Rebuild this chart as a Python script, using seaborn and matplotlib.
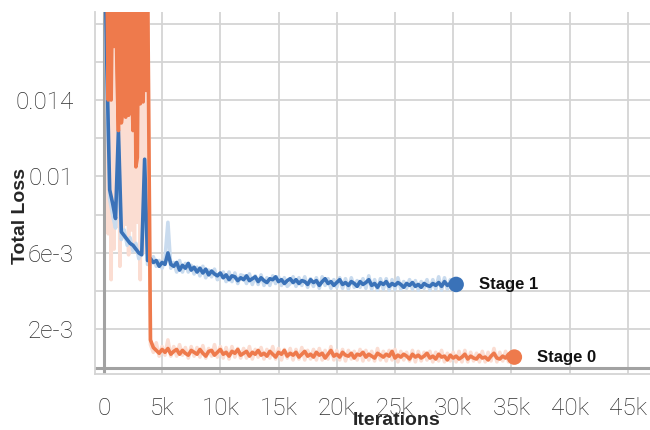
import matplotlib
matplotlib.use("Agg")
import matplotlib.pyplot as plt
import seaborn as sns

# logged iterations, in thousands
steps = [
    0, 0.25, 0.5, 0.75, 1, 1.25, 1.5, 1.75,
    2, 2.25, 2.5, 2.75, 3, 3.25, 3.5, 3.75,
    4, 4.25, 4.5, 4.75, 5, 5.25, 5.5, 5.75,
    6, 6.25, 6.5, 6.75, 7, 7.25, 7.5, 7.75,
    8, 8.25, 8.5, 8.75, 9, 9.25, 9.5, 9.75,
    10, 10.25, 10.5, 10.75, 11, 11.25, 11.5, 11.75,
    12, 12.25, 12.5, 12.75, 13, 13.25, 13.5, 13.75,
    14, 14.25, 14.5, 14.75, 15, 15.25, 15.5, 15.75,
    16, 16.25, 16.5, 16.75, 17, 17.25, 17.5, 17.75,
    18, 18.25, 18.5, 18.75, 19, 19.25, 19.5, 19.75,
    20, 20.25, 20.5, 20.75, 21, 21.25, 21.5, 21.75,
    22, 22.25, 22.5, 22.75, 23, 23.25, 23.5, 23.75,
    24, 24.25, 24.5, 24.75, 25, 25.25, 25.5, 25.75,
    26, 26.25, 26.5, 26.75, 27, 27.25, 27.5, 27.75,
    28, 28.25, 28.5, 28.75, 29, 29.25, 29.5, 29.75,
    30, 30.25, 30.5, 30.75, 31, 31.25, 31.5, 31.75,
    32, 32.25, 32.5, 32.75, 33, 33.25, 33.5, 33.75,
    34, 34.25, 34.5, 34.75, 35, 35.25,
]

# stage 0 is logged more densely during its unstable warm-up (0.25k - 3.75k)
stage0_warmup_steps = [
    0.25, 0.375, 0.5, 0.625, 0.75, 0.875, 1, 1.125, 1.25, 1.375,
    1.5, 1.625, 1.75, 1.875, 2, 2.125, 2.25, 2.375, 2.5, 2.625,
    2.75, 2.875, 3, 3.125, 3.25, 3.375, 3.5, 3.625, 3.75,
]

# total loss, in units of 1e-3
stage1_smooth = [
    24, 16, 9.3, 8.6, 7.8, 12.4, 7.1, 6.9,
    6.7, 6.5, 6.4, 6.2, 6.0, 5.9, 10.9, 5.6,
    5.7, 5.5, 5.6, 5.3, 5.5, 5.4, 6.0, 5.4,
    5.3, 5.5, 5.1, 5.35, 5.2, 5.45, 5.1, 5.25,
    5.0, 5.2, 4.95, 5.15, 4.85, 5.05, 4.9, 4.8,
    4.95, 4.7, 4.85, 4.6, 4.8, 4.75, 4.55, 4.7,
    4.6, 4.8, 4.55, 4.65, 4.75, 4.5, 4.7, 4.55,
    4.45, 4.65, 4.6, 4.75, 4.5, 4.6, 4.4, 4.55,
    4.65, 4.45, 4.6, 4.4, 4.55, 4.5, 4.35, 4.6,
    4.45, 4.55, 4.3, 4.5, 4.65, 4.4, 4.5, 4.3,
    4.45, 4.6, 4.35, 4.45, 4.3, 4.5, 4.4, 4.25,
    4.5, 4.35, 4.45, 4.6, 4.3, 4.4, 4.2, 4.45,
    4.35, 4.5, 4.25, 4.4, 4.3, 4.45, 4.35, 4.2,
    4.4, 4.3, 4.45, 4.25, 4.35, 4.2, 4.4, 4.3,
    4.25, 4.4, 4.3, 4.45, 4.25, 4.5, 4.3, 4.4,
    4.3, 4.35,
]
stage1_raw = [
    24, 15, 8.8, 8.0, 7.3, 11.6, 6.7, 7.2,
    6.4, 6.8, 6.1, 6.5, 5.7, 6.1, 9.6, 5.4,
    5.4, 5.8, 5.3, 5.6, 5.2, 5.7, 7.6, 5.2,
    5.5, 5.0, 5.6, 5.0, 5.45, 5.0, 5.35, 4.9,
    5.25, 4.8, 5.3, 4.7, 5.1, 4.75, 5.15, 4.6,
    4.7, 5.0, 4.5, 5.0, 4.5, 4.95, 4.4, 4.85,
    4.8, 4.4, 4.9, 4.35, 4.8, 4.35, 4.85, 4.3,
    4.7, 4.3, 4.8, 4.4, 4.75, 4.3, 4.7, 4.25,
    4.4, 4.75, 4.25, 4.7, 4.3, 4.75, 4.2, 4.65,
    4.25, 4.7, 4.15, 4.75, 4.3, 4.65, 4.15, 4.6,
    4.2, 4.7, 4.15, 4.65, 4.1, 4.7, 4.2, 4.55,
    4.2, 4.65, 4.15, 4.8, 4.1, 4.6, 4.05, 4.65,
    4.1, 4.65, 4.05, 4.6, 4.1, 4.7, 4.1, 4.5,
    4.15, 4.6, 4.1, 4.55, 4.05, 4.5, 4.15, 4.6,
    4.05, 4.6, 4.1, 4.75, 4.05, 4.7, 4.1, 4.6,
    4.15, 4.4,
]

stage0_warmup_smooth = [
    21, 14.0, 21, 14.0, 21, 16.8, 21, 15.5, 12.4, 21,
    12.8, 13.5, 21, 13.1, 21, 13.2, 21, 15.6, 12.4, 21,
    10.5, 11.0, 21, 13.8, 21, 13.9, 21, 14.5, 21,
]
stage0_warmup_raw = [
    21, 7.0, 21, 4.6, 21, 6.2, 21, 7.4, 21, 5.3,
    21, 6.8, 21, 7.5, 21, 5.9, 21, 7.2, 21, 6.4,
    21, 7.6, 21, 4.6, 21, 6.0, 21, 7.0, 21,
]
# from 4k onwards
stage0_smooth = [
    1.45, 1.05, 0.9, 0.75, 0.95, 0.8, 1.0, 0.7,
    0.85, 0.95, 0.7, 0.9, 0.75, 0.65, 0.9, 0.8,
    0.7, 0.95, 0.75, 0.6, 0.85, 0.9, 0.65, 0.8,
    0.95, 0.7, 0.8, 0.6, 0.85, 0.75, 0.95, 0.65,
    0.75, 0.85, 0.6, 0.8, 0.7, 0.9, 0.65, 0.75,
    0.6, 0.85, 0.7, 0.55, 0.8, 0.7, 0.9, 0.6,
    0.75, 0.65, 0.8, 0.55, 0.7, 0.85, 0.6, 0.7,
    0.55, 0.8, 0.65, 0.75, 0.5, 0.7, 0.9, 0.6,
    0.7, 0.55, 0.8, 0.65, 0.6, 0.75, 0.5, 0.7,
    0.65, 0.8, 0.55, 0.7, 0.6, 0.5, 0.75, 0.65,
    0.55, 0.7, 0.6, 0.85, 0.5, 0.65, 0.55, 0.7,
    0.6, 0.45, 0.7, 0.55, 0.65, 0.5, 0.6, 0.75,
    0.5, 0.6, 0.45, 0.7, 0.55, 0.6, 0.4, 0.65,
    0.5, 0.6, 0.45, 0.55, 0.7, 0.45, 0.6, 0.5,
    0.45, 0.65, 0.5, 0.55, 0.4, 0.6, 0.75, 0.5,
    0.45, 0.6, 0.5, 0.7, 0.55, 0.55,
]
stage0_raw = [
    1.2, 0.8, 1.3, 0.6, 1.1, 0.65, 1.45, 0.6,
    1.1, 0.6, 1.2, 0.65, 1.05, 0.5, 1.1, 0.6,
    1.05, 0.55, 1.15, 0.5, 1.0, 0.6, 1.2, 0.55,
    1.1, 0.5, 1.05, 0.45, 1.1, 0.55, 1.0, 0.5,
    1.0, 0.5, 1.1, 0.45, 0.95, 0.55, 1.05, 0.45,
    0.95, 0.5, 1.1, 0.45, 1.0, 0.4, 0.95, 0.5,
    1.0, 0.4, 0.95, 0.45, 1.05, 0.4, 0.9, 0.45,
    0.95, 0.4, 1.0, 0.4, 0.9, 0.45, 1.1, 0.4,
    0.9, 0.4, 0.95, 0.35, 0.9, 0.45, 0.85, 0.4,
    0.95, 0.35, 0.9, 0.4, 0.85, 0.35, 1.0, 0.4,
    0.85, 0.35, 0.9, 0.4, 0.95, 0.3, 0.85, 0.4,
    0.8, 0.35, 0.9, 0.3, 0.85, 0.35, 0.8, 0.4,
    0.85, 0.3, 0.8, 0.35, 0.9, 0.3, 0.75, 0.35,
    0.8, 0.3, 0.85, 0.3, 0.9, 0.3, 0.8, 0.35,
    0.75, 0.3, 0.85, 0.3, 0.8, 0.35, 1.0, 0.3,
    0.8, 0.35, 0.85, 0.3, 0.8, 0.55,
]

x_ticks = [0, 5, 10, 15, 20, 25, 30, 35, 40, 45]
x_labels = ["0", "5k", "10k", "15k", "20k", "25k", "30k", "35k", "40k", "45k"]
y_ticks = [0, 2, 4, 6, 8, 10, 12, 14, 16, 18]
y_labels = ["", "2e-3", "", "6e-3", "", "0.01", "", "0.014", "", ""]

BLUE = "#3a72b8"
ORANGE = "#ee7a4c"
BLUE_RAW = "#c9dbee"
ORANGE_RAW = "#fbddd2"
GRID = "#d4d4d4"
BOLD_FONT = ["Liberation Sans", "DejaVu Sans"]
Y_TOP = 18.6


def plot_total_loss():
    sns.set_style("white")
    plt.rcParams["font.family"] = ["Roboto", "DejaVu Sans"]

    fig = plt.figure(figsize=(6.5, 4.3), dpi=100)
    ax = fig.add_axes([0.146, 0.13, 0.854, 0.842])

    stage1_x = steps[:len(stage1_smooth)]
    stage0_x = stage0_warmup_steps + steps[16:]
    stage0_y = stage0_warmup_smooth + stage0_smooth
    stage0_y_raw = stage0_warmup_raw + stage0_raw

    # warm-up of stage 0 oscillates so fast that it reads as a solid mass
    ax.fill_between(stage0_warmup_steps, stage0_warmup_raw, Y_TOP + 5,
                    color=ORANGE_RAW, linewidth=0, zorder=3)
    ax.fill_between(stage0_warmup_steps, stage0_warmup_smooth, Y_TOP + 5,
                    color=ORANGE, linewidth=0, zorder=5)

    # raw values (faint) behind the smoothed curves
    sns.lineplot(x=stage0_x, y=stage0_y_raw, ax=ax, color=ORANGE_RAW,
                 linewidth=2.6, estimator=None, sort=False, zorder=3)
    sns.lineplot(x=stage1_x, y=stage1_raw, ax=ax, color=BLUE_RAW,
                 linewidth=2.6, estimator=None, sort=False, zorder=3)
    sns.lineplot(x=stage1_x, y=stage1_smooth, ax=ax, color=BLUE,
                 linewidth=2.6, estimator=None, sort=False, zorder=4)
    sns.lineplot(x=stage0_x, y=stage0_y, ax=ax, color=ORANGE,
                 linewidth=2.6, estimator=None, sort=False, zorder=5)

    # end markers + run names
    for x, y, color, name in [(stage1_x[-1], stage1_smooth[-1], BLUE, "Stage 1"),
                              (stage0_x[-1], stage0_y[-1], ORANGE, "Stage 0")]:
        sns.scatterplot(x=[x], y=[y], ax=ax, color=color, s=125,
                        edgecolor="none", zorder=6)
        ax.annotate(name, xy=(x, y), xytext=(16.5, 0), textcoords="offset points",
                    ha="left", va="center", fontsize=12, fontweight="bold",
                    family=BOLD_FONT, color="#111111")

    ax.set_xlim(-0.77, 46.9)
    ax.set_ylim(-0.34, Y_TOP)
    ax.set_xticks(x_ticks, x_labels)
    ax.set_yticks(y_ticks, y_labels)
    for lab in ax.get_xticklabels() + ax.get_yticklabels():
        lab.set_fontweight("light")

    ax.grid(True, color=GRID, linewidth=1.3)
    ax.set_axisbelow(True)
    ax.axvline(0, color="#a2a2a2", linewidth=2.2, zorder=2)
    ax.axhline(0, color="#a2a2a2", linewidth=2.2, zorder=2)

    for side in ["top", "right"]:
        ax.spines[side].set_visible(False)
    for side in ["left", "bottom"]:
        ax.spines[side].set_color(GRID)
        ax.spines[side].set_linewidth(1.3)

    ax.tick_params(axis="both", length=7.2, width=1.3, color=GRID,
                   labelsize=17.5, labelcolor="#2e2e2e")
    ax.tick_params(axis="x", pad=9)
    ax.tick_params(axis="y", pad=8)

    ax.set_xlabel("Iterations", fontsize=14, fontweight="bold", family=BOLD_FONT)
    ax.xaxis.set_label_coords(0.544, -0.104)
    ax.set_ylabel("Total Loss", fontsize=14, fontweight="bold", family=BOLD_FONT)
    ax.yaxis.set_label_coords(-0.119, 0.436)

    fig.savefig("out.png", dpi=100)


if __name__ == "__main__":
    plot_total_loss()
